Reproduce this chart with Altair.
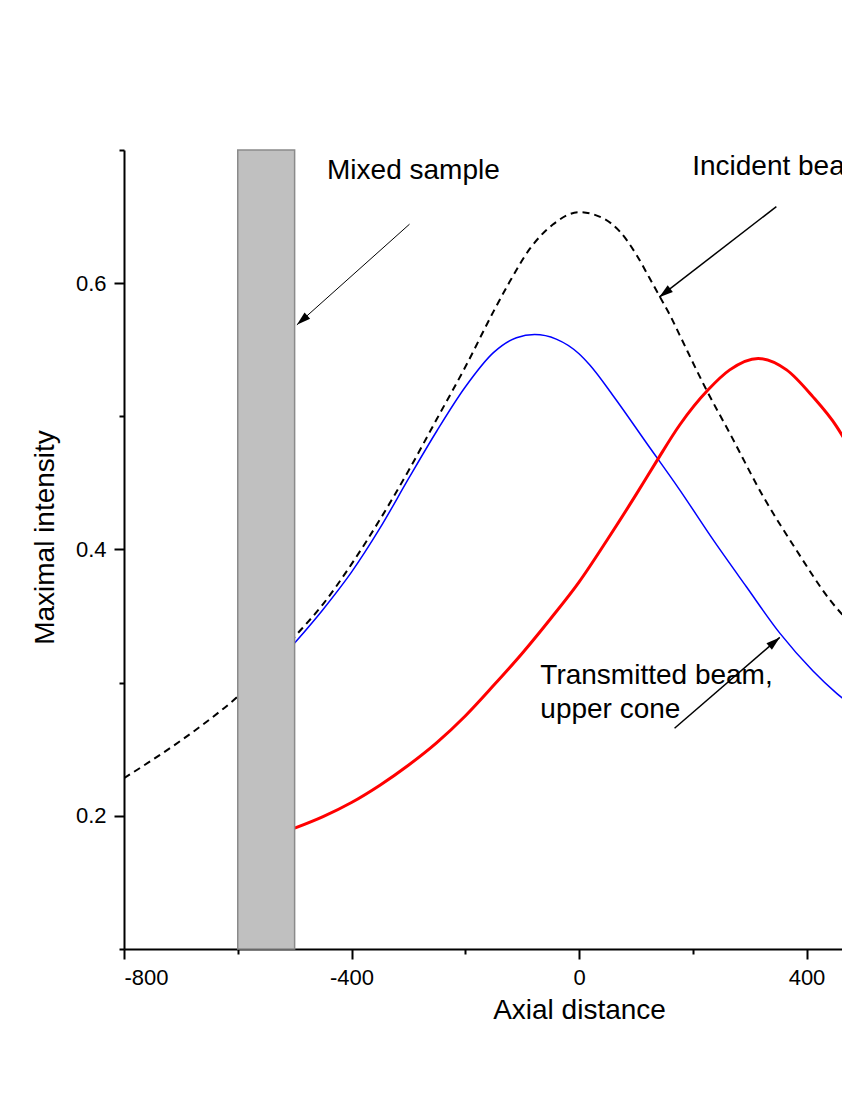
import math
import altair as alt
import pandas as pd

# ---------------- data ----------------
X_MIN, X_MAX = -800, 462.4
Y_MIN, Y_MAX = 0.1, 0.7
W, H = 718, 799

# Incident beam (dashed black)
inc_x = [-800, -750, -700, -650, -600, -550, -500, -450, -400, -350, -300, -250, -200,
         -150, -122, -87, -46, 0, 42, 72, 101, 124, 142, 160, 177, 224, 265, 324, 382,
         441, 476, 520]
inc_y = [0.2283, 0.2420, 0.2565, 0.2722, 0.2896, 0.3110, 0.3345, 0.3590, 0.3890, 0.4225,
         0.4590, 0.4980, 0.5370, 0.5790, 0.6010, 0.6255, 0.6440, 0.6533, 0.6488, 0.6387,
         0.6213, 0.6038, 0.5899, 0.5760, 0.5610, 0.5199, 0.4874, 0.4397, 0.3997, 0.3622,
         0.3447, 0.3220]

# Transmitted beam, upper cone (blue)
up_x = [-500, -450, -400, -350, -300, -250, -200, -150, -110, -78, -40, 0, 19, 60, 119,
        177, 236, 294, 353, 411, 453, 476, 520]
up_y = [0.3297, 0.3550, 0.3830, 0.4160, 0.4530, 0.4890, 0.5220, 0.5480, 0.5590, 0.5614,
        0.5580, 0.5470, 0.5385, 0.5155, 0.4798, 0.4448, 0.4072, 0.3722, 0.3372, 0.3090,
        0.2920, 0.2840, 0.2680]

# Red curve
red_x = [-500, -450, -400, -350, -300, -250, -200, -150, -99, -50, 0, 50, 100, 136, 177,
         227, 265, 315, 365, 411, 453, 476, 520]
red_y = [0.1907, 0.1994, 0.2100, 0.2230, 0.2380, 0.2550, 0.2750, 0.2980, 0.3225, 0.3480,
         0.3755, 0.4075, 0.4410, 0.4660, 0.4935, 0.5199, 0.5349, 0.5435, 0.5349, 0.5148,
         0.4923, 0.4760, 0.4400]

# Mixed sample slab
slab_x = [-600]
slab_x2 = [-500]

# Tick values
x_ticks = [-800, -600, -400, -200, 0, 200, 400]
y_ticks = [0.1, 0.2, 0.3, 0.4, 0.5, 0.6, 0.7]

# Annotations
label_text = ["Mixed sample", "Incident beam", "Transmitted beam,", "upper cone"]
label_x = [-443, 199, -68, -68]
label_y = [0.6785, 0.6813, 0.2991, 0.2736]

arrow_x0 = [-298, 347, 168]
arrow_y0 = [0.6443, 0.6575, 0.2658]
arrow_x1 = [-496, 141, 353]
arrow_y1 = [0.5687, 0.5895, 0.3340]
arrow_w = [1.0, 1.5, 1.5]

# ---------------- chart ----------------
FONT = "Liberation Sans"

kx = W / (X_MAX - X_MIN)
ky = H / (Y_MAX - Y_MIN)
angles = []
for a, b, c, d in zip(arrow_x0, arrow_y0, arrow_x1, arrow_y1):
    dx = (c - a) * kx
    dy = -(d - b) * ky
    angles.append(math.degrees(math.atan2(dx, -dy)) % 360)

x_scale = alt.Scale(domain=[X_MIN, X_MAX], nice=False, zero=False)
y_scale = alt.Scale(domain=[Y_MIN, Y_MAX], nice=False, zero=False)

x_axis = alt.Axis(
    values=x_ticks,
    labelExpr="datum.value % 400 === 0 ? '' + datum.value : ''",
    tickSize={"condition": {"test": "datum.value % 400 === 0", "value": 10}, "value": 5},
    labelPadding=8,
    title="Axial distance",
    titleX=455, titleY=69, titleAlign="center", titleBaseline="alphabetic",
)
y_axis = alt.Axis(
    values=y_ticks,
    labelExpr="round(datum.value * 10) % 2 === 0 ? format(datum.value, '.1f') : ''",
    tickSize={"condition": {"test": "round(datum.value * 10) % 2 === 0", "value": 10}, "value": 5},
    labelPadding=8,
    title="Maximal intensity",
    titleX=-71, titleY=387, titleAngle=270, titleAlign="center", titleBaseline="alphabetic",
)

X = alt.X("x:Q", scale=x_scale, axis=x_axis)
Y = alt.Y("y:Q", scale=y_scale, axis=y_axis)

inc_df = pd.DataFrame({"x": inc_x, "y": inc_y})
up_df = pd.DataFrame({"x": up_x, "y": up_y})
red_df = pd.DataFrame({"x": red_x, "y": red_y})
slab_df = pd.DataFrame({"x": slab_x, "x2": slab_x2, "y": [Y_MIN], "y2": [Y_MAX]})
lab_df = pd.DataFrame({"x": label_x, "y": label_y, "t": label_text})
arr_df = pd.DataFrame({"x": arrow_x0, "y": arrow_y0, "x2": arrow_x1, "y2": arrow_y1,
                       "w": arrow_w})
head_df = pd.DataFrame({"x": arrow_x1, "y": arrow_y1, "ang": angles})

inc = alt.Chart(inc_df).mark_line(color="black", strokeWidth=2, strokeDash=[7, 5],
                                  interpolate="monotone", clip=True).encode(x=X, y=Y)
up = alt.Chart(up_df).mark_line(color="#0000FF", strokeWidth=1.5, interpolate="monotone",
                                clip=True).encode(x=X, y=Y)
red = alt.Chart(red_df).mark_line(color="#FF0000", strokeWidth=3, interpolate="monotone",
                                  clip=True).encode(x=X, y=Y)
slab = alt.Chart(slab_df).mark_rect(fill="#C0C0C0", stroke="#8A8A8A", strokeWidth=1.5).encode(
    x=X, x2="x2:Q", y=Y, y2="y2:Q")
arrows = alt.Chart(arr_df).mark_rule(color="black").encode(
    x=X, y=Y, x2="x2:Q", y2="y2:Q", strokeWidth=alt.StrokeWidth("w:Q", scale=None, legend=None))
heads = alt.Chart(head_df).mark_point(
    shape="M0,0L-0.6,2L0.6,2Z", filled=True, size=196, color="black", opacity=1,
    strokeWidth=0).encode(x=X, y=Y, angle=alt.Angle("ang:Q", scale=None))
labels = alt.Chart(lab_df).mark_text(align="left", baseline="alphabetic", fontSize=28,
                                     font=FONT, color="black").encode(x=X, y=Y, text="t:N")

chart = alt.layer(inc, up, red, slab, arrows, heads, labels).properties(
    width=W, height=H,
    autosize=alt.AutoSizeParams(type="none"),
    padding={"left": 116, "top": 142, "right": 0, "bottom": 110},
    background="white",
).configure_view(stroke=None).configure_axis(
    grid=False,
    domainColor="black", domainWidth=2,
    tickColor="black", tickWidth=2,
    labelFont=FONT, labelFontSize=22, labelColor="black",
    titleFont=FONT, titleFontSize=28, titleFontWeight="normal", titleColor="black",
)

chart.save("out.html", embed_options={"renderer": "svg", "actions": False})
